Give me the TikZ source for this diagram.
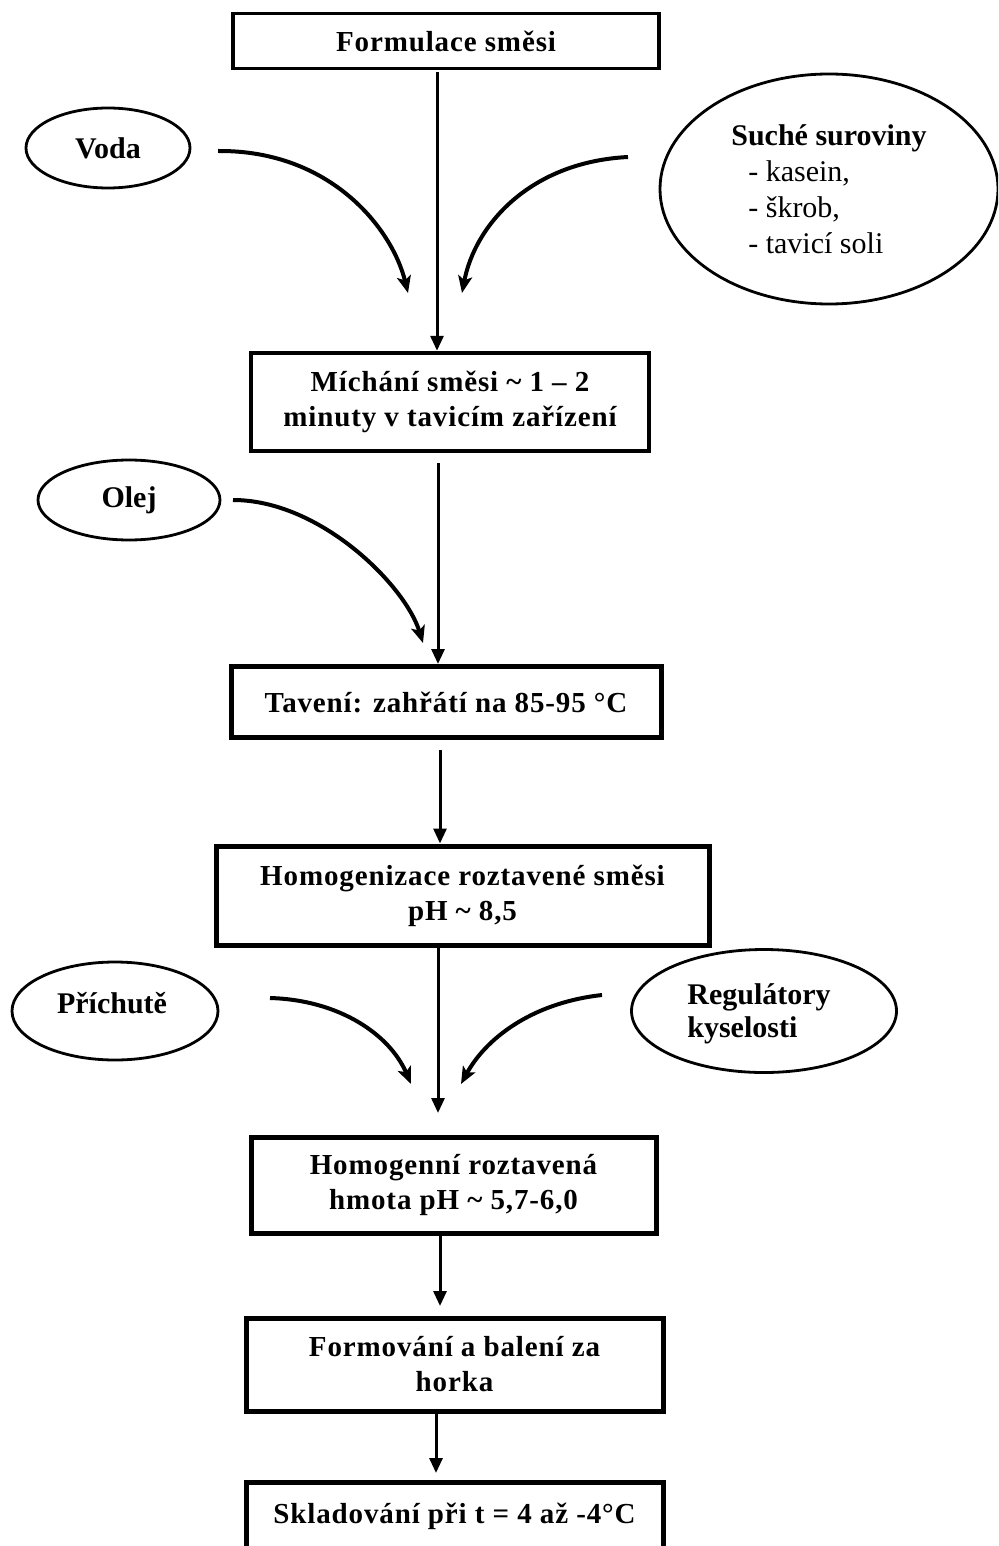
\documentclass[tikz,border=0pt]{standalone}
\usepackage{fontspec}
\usepackage{graphicx}
\setmainfont{Liberation Serif}
\newfontfamily\boxfont[LetterSpace=3]{Liberation Serif}
\usetikzlibrary{arrows.meta,shapes.geometric}
\tikzset{
  procbox/.style={draw, line width=4.5pt, inner sep=0pt, align=center,
    font=\boxfont\bfseries\fontsize{29}{35}\selectfont},
  ell/.style={draw, ellipse, line width=2.8pt, inner sep=0pt, align=left,
    font=\bfseries\fontsize{30}{33}\selectfont},
  elltext/.style={inner sep=0pt, align=left, font=\bfseries\fontsize{30}{33}\selectfont},
  flowarr/.style={line width=3pt, -{Triangle[length=15pt,width=13pt]}},
  feedarr/.style={line width=4pt, -{Stealth[length=17pt,width=14pt,inset=4pt]}}
}
\begin{document}
\begin{tikzpicture}[x=1pt,y=-1pt]
\useasboundingbox (0,0) rectangle (998,1546);
\clip (0,0) rectangle (998,1546);

% process boxes
\node[procbox, line width=3.5pt, minimum width=426, minimum height=55] (b1) at (446,41) {Formulace směsi};
\node[procbox, minimum width=398, minimum height=98] (b2) at (450,402) {Míchání směsi \textasciitilde\ 1 \textendash\ 2\\minuty v tavicím zařízení};
\node[procbox, line width=5pt, minimum width=430, minimum height=71] (b3) at (446,702) {Tavení: zahřátí na 85-95 °C};
\node[procbox, line width=5pt, minimum width=493, minimum height=99] (b4) at (462.5,895.5) {Homogenizace roztavené směsi\\pH \textasciitilde\ 8,5};
\node[procbox, line width=5pt, minimum width=405, minimum height=96] (b5) at (453.5,1185) {Homogenní roztavená\\hmota pH \textasciitilde\ 5,7-6,0};
\node[procbox, line width=5pt, minimum width=417, minimum height=93] (b6) at (454.5,1364.5) {Formování a balení za\\horka};
\node[procbox, line width=5pt, minimum width=417, minimum height=108] (b7) at (454.5,1536) {Skladování při t = 4 až -4°C\\\strut};

% input ellipses
\node[ell, minimum width=164, minimum height=80] (voda) at (108,148) {Voda};
\node[ell, minimum width=338, minimum height=230, font=\bfseries\fontsize{30}{36}\selectfont] (such) at (829,189)
  {Suché suroviny\\\mdseries\hspace{17pt}- kasein,\\\mdseries\hspace{17pt}- škrob,\\\mdseries\hspace{17pt}- tavicí soli};
\node[ell, minimum width=182, minimum height=80] (olej) at (129,500) {Olej};
\node[ell, minimum width=206, minimum height=98] (prich) at (115,1011) {};
\node[elltext] (prichtxt) at (112,1003) {Příchutě};
\node[ell, minimum width=265, minimum height=123] (reg) at (764,1011) {};
\node[elltext] (regtxt) at (759,1014) {Regulátory\\kyselosti};

% main flow column
\coordinate (col) at (437,0);
\coordinate (e45) at (438,1113);
\coordinate (e56) at (440,1306);
\coordinate (e67) at (436,1473);

\draw[flowarr] ([yshift=-2pt]b1.south -| col) -- (b2.north -| col);
\draw[flowarr] ([yshift=-10pt]b2.south -| 438,0) -- (b3.north -| 438,0);
\draw[flowarr] ([yshift=-10pt]b3.south -| 440,0) -- (b4.north -| 440,0);
\draw[flowarr] (b4.south -| e45) -- (e45);
\draw[flowarr] (b5.south -| e56) -- (e56);
\draw[flowarr] (b6.south -| e67) -- (e67);

% feed arrows
\coordinate (vs) at (218,151);
\coordinate (ve) at (408,293);
\coordinate (ss) at (628,157);
\coordinate (se) at (462,293);
\coordinate (os) at (233,500);
\coordinate (oe) at (423,643);
\coordinate (ps) at (270,998);
\coordinate (pe) at (411,1084);
\coordinate (rs) at (602,995);
\coordinate (re) at (461,1084);

\draw[feedarr] (vs) .. controls (330,150) and (392,228) .. (ve);
\draw[feedarr] (ss) .. controls (530,162) and (475,225) .. (se);
\draw[feedarr] (os) .. controls (320,500) and (405,585) .. (oe);
\draw[feedarr] (ps) .. controls (340,1000) and (390,1035) .. (pe);
\draw[feedarr] (rs) .. controls (530,1003) and (485,1040) .. (re);
\end{tikzpicture}
\end{document}
